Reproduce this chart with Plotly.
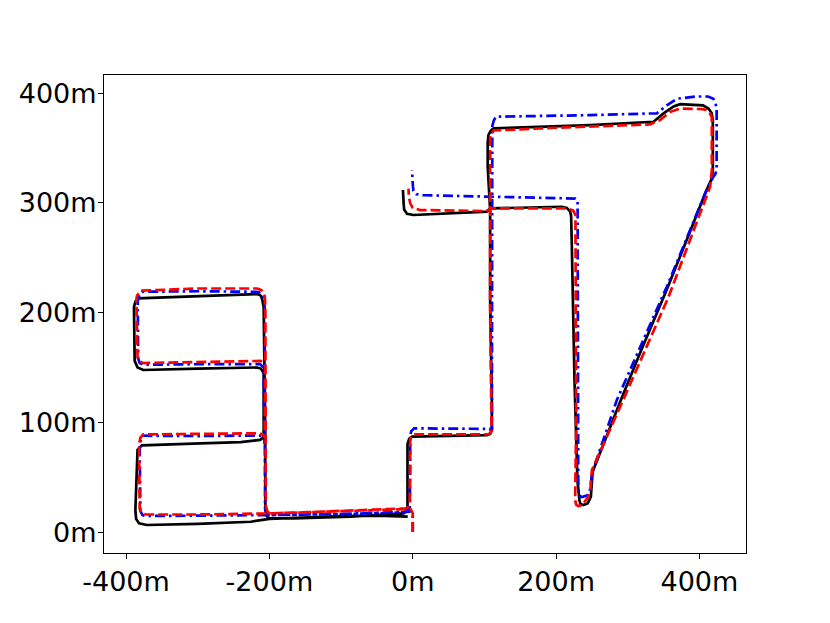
import plotly.graph_objects as go

# Ground truth trajectory (black, solid) in metres
gt_x = [-7, -50, -100, -166, -200, -226, -300, -371, -382, -386, -387, -384, -378, -296, -240, -213, -209, -208, -208,
        -212, -217, -300, -376, -384, -388, -389, -387, -384, -300, -217, -212, -210, -208, -206, -205.7, -204, -201,
        -166, -87, -12.8, -9, -7.3, -7.3, -5, -1, 50, 103.5, 108, 110.4, 110.4, 108, 108, 104.6, 104.6, 105.7, 109,
        112.7, 247.6, 336, 350, 364, 373, 405, 412.6, 417, 418.7, 418.7, 417, 408, 387, 354.5, 317, 289, 251, 250,
        248.5, 244, 238, 234, 232.6, 229.8, 225.7, 222, 221, 219.7, 215, 208, 108, 103.5, 1.1, -8, -12, -12.7, -13.7]
gt_y = [14, 15, 14.5, 12.5, 12, 9.4, 7.5, 6.4, 8, 12, 20, 75, 79, 80.8, 82, 84, 86, 90, 145,
        149, 150, 149, 147.7, 150, 156, 205, 210, 213, 215, 217, 215.5, 212, 205, 100, 20, 15, 12.5,
        12.5, 14, 17, 19, 23, 80, 85, 87, 88, 88.4, 89.5, 93, 120, 211, 293.5, 333, 355, 362, 366,
        368, 371, 374, 381.7, 388, 390, 389, 386, 382, 375.6, 330, 322, 308.7, 274, 221, 163, 118, 55, 40,
        32, 26, 24.6, 25.5, 29, 47, 138.6, 260, 288, 292, 295.5, 296.5, 295, 292, 289, 290, 294, 299.6, 311.8]

# Estimate 1 (red, dashed)
est1_x = [0, 0, -3, -50, -150, -200, -300, -372, -378, -381, -382, -380, -376, -300, -215, -209, -206.5, -205.7,
          -207, -212, -300, -376, -381, -384, -385.6, -385, -380, -300, -217, -211, -208, -206.5, -205.7, -205,
          -203, -200, -150, -50, -10, -6, -4, -3.5, -2, 1, 100, 105.7, 109, 110, 108, 108, 108, 110, 113, 200, 331,
          345, 359, 373, 404, 410, 414, 417.3, 417.3, 415, 408, 357, 292, 250, 248, 245, 236, 231, 228, 226.6, 228,
          228, 227, 224, 215, 110, 103, 10.5, 0, -3.5, -5.5, -5.9]
est1_y = [0, 17, 21, 20, 17.5, 17, 16, 16, 17, 21, 80, 86, 89, 89.5, 90, 89, 86, 150,
          153.5, 156, 155, 154, 156, 159, 210, 215, 220, 222, 222, 220.5, 218, 214.5, 205, 24,
          19, 17, 18, 20.5, 21.6, 23, 26, 84, 87.5, 89, 88.4, 89, 91, 93, 200, 290, 360, 364, 366, 368.5, 371.6,
          375.6, 383, 386, 385.5, 384.7, 382.5, 378, 330, 314.8, 302.6, 214.5, 118, 56.5, 40, 32, 24.5, 23.7, 25, 29,
          100, 284, 289, 293, 295, 295, 292.6, 293.5, 295.5, 299.6, 306, 313]

# Estimate 2 (blue, dash-dot)
est2_x = [0, 0, -3, -50, -190, -300, -372, -377, -380, -381, -379, -376, -300, -214, -209, -207, -206.7, -208,
          -213, -300, -376, -381, -383, -383.8, -382, -378, -300, -218, -212, -209, -207.5, -206.7, -206, -203,
          -200, -100, -10, -6, -4, -3.5, -2, 2, 100, 107, 110.4, 110.4, 111, 113, 116, 247, 340.6, 354.5, 368.5,
          396, 412, 419.5, 422.5, 424, 424, 422, 419.5, 410, 354.5, 284.8, 250, 248, 245, 236, 233, 231, 231,
          230, 226.6, 110, 15, 5, 1, 0.3, -1.1]
est2_y = [0, 15, 18.5, 17, 15.5, 15, 14.6, 15.5, 19, 80, 85, 87.8, 87.5, 88, 87, 84, 80, 150,
          153, 153, 152.5, 154, 158, 210, 215, 219, 219.5, 219, 218, 216, 212, 205, 21, 17,
          15.5, 16.5, 18.5, 20, 23, 88, 92, 94.5, 94.5, 94, 92, 98, 370, 375, 378.6, 380, 381.7, 389, 395,
          397, 397, 395, 391, 385, 330, 326, 324, 311.8, 223.6, 120.3, 53.5, 40, 33.7, 32, 33, 38, 299.6,
          302.5, 304, 306, 307, 308, 311, 314.8, 330]

x_ticks = [-400, -200, 0, 200, 400]
x_tick_labels = ["-400m", "-200m", "0m", "200m", "400m"]
y_ticks = [0, 100, 200, 300, 400]
y_tick_labels = ["0m", "100m", "200m", "300m", "400m"]

fig = go.Figure()
fig.add_trace(go.Scatter(x=gt_x, y=gt_y, mode="lines",
                         line=dict(color="black", width=2.7), showlegend=False))
fig.add_trace(go.Scatter(x=est2_x, y=est2_y, mode="lines",
                         line=dict(color="blue", width=2.7, dash="10px,4px,2.5px,4px"),
                         showlegend=False))
fig.add_trace(go.Scatter(x=est1_x, y=est1_y, mode="lines",
                         line=dict(color="red", width=2.7, dash="10px,4px"), showlegend=False))

axis_common = dict(showline=True, linecolor="black", linewidth=1, mirror=True,
                   ticks="outside", ticklen=5, tickwidth=1, tickcolor="black",
                   showgrid=False, zeroline=False,
                   tickfont=dict(family="DejaVu Sans", size=27, color="black"))

fig.update_layout(
    width=830, height=623,
    margin=dict(l=96, r=92, t=67, b=78),
    paper_bgcolor="white", plot_bgcolor="white",
    xaxis=dict(range=[-430.8, 465], tickvals=x_ticks, ticktext=x_tick_labels, **axis_common),
    yaxis=dict(range=[-19.1, 416.6], tickvals=y_ticks, ticktext=y_tick_labels,
               ticklabelstandoff=-4, **axis_common),
)

fig.write_html("out.html")
